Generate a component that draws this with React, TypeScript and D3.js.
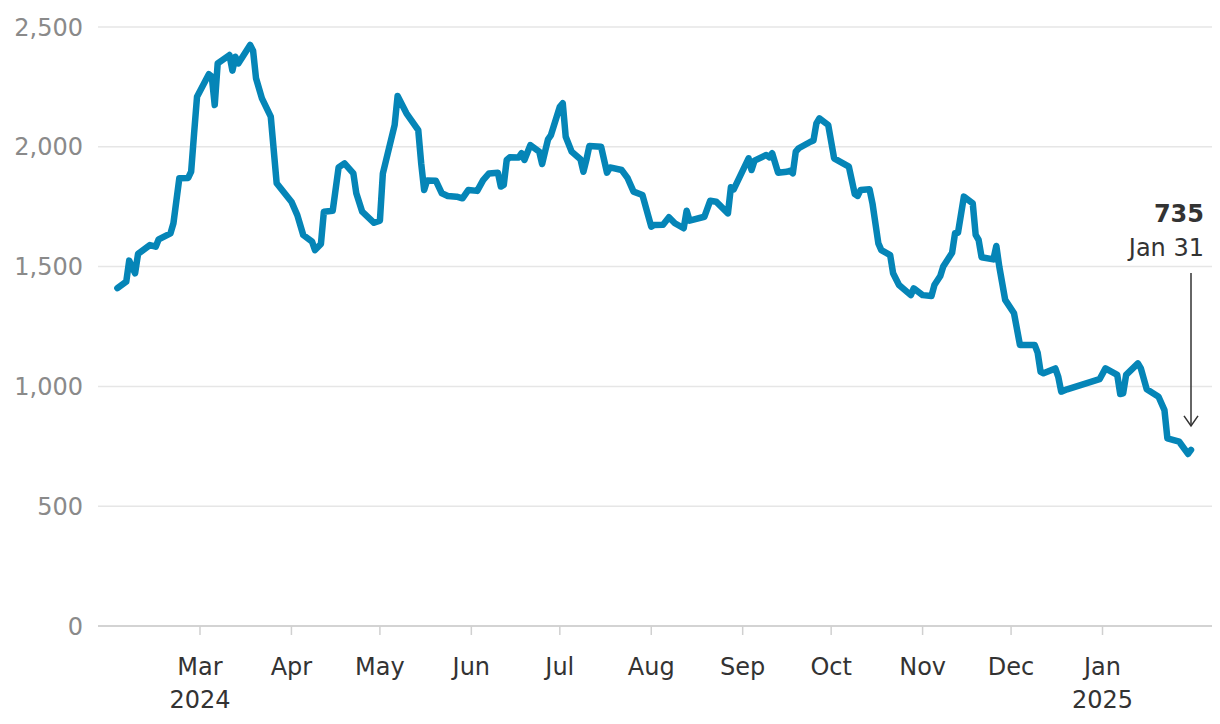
import React from "react";
import * as d3 from "d3";

const dates: string[] = [
  "2024-02-02","2024-02-05","2024-02-06","2024-02-08","2024-02-09","2024-02-13","2024-02-15","2024-02-16","2024-02-20","2024-02-21",
  "2024-02-23","2024-02-26","2024-02-27","2024-02-28","2024-02-29","2024-03-04","2024-03-05","2024-03-06","2024-03-07","2024-03-11",
  "2024-03-12","2024-03-13","2024-03-14","2024-03-18","2024-03-19","2024-03-20","2024-03-22","2024-03-25","2024-03-27","2024-04-01",
  "2024-04-03","2024-04-05","2024-04-08","2024-04-09","2024-04-11","2024-04-12","2024-04-15","2024-04-17","2024-04-19","2024-04-22",
  "2024-04-23","2024-04-25","2024-04-29","2024-05-01","2024-05-02","2024-05-06","2024-05-07","2024-05-10","2024-05-14","2024-05-15",
  "2024-05-16","2024-05-17","2024-05-20","2024-05-22","2024-05-24","2024-05-27","2024-05-29","2024-05-31","2024-06-03","2024-06-05",
  "2024-06-07","2024-06-10","2024-06-11","2024-06-12","2024-06-13","2024-06-14","2024-06-17","2024-06-18","2024-06-19","2024-06-21",
  "2024-06-24","2024-06-25","2024-06-26","2024-06-27","2024-06-28","2024-07-01","2024-07-02","2024-07-03","2024-07-05","2024-07-08",
  "2024-07-09","2024-07-10","2024-07-11","2024-07-15","2024-07-17","2024-07-18","2024-07-22","2024-07-24","2024-07-26","2024-07-29",
  "2024-08-01","2024-08-02","2024-08-05","2024-08-07","2024-08-09","2024-08-12","2024-08-13","2024-08-14","2024-08-19","2024-08-21",
  "2024-08-23","2024-08-27","2024-08-28","2024-08-29","2024-09-03","2024-09-04","2024-09-05","2024-09-09","2024-09-10","2024-09-11",
  "2024-09-13","2024-09-16","2024-09-17","2024-09-18","2024-09-19","2024-09-20","2024-09-24","2024-09-25","2024-09-26","2024-09-27",
  "2024-09-30","2024-10-02","2024-10-07","2024-10-09","2024-10-10","2024-10-11","2024-10-14","2024-10-15","2024-10-17","2024-10-18",
  "2024-10-21","2024-10-22","2024-10-24","2024-10-28","2024-10-29","2024-11-01","2024-11-04","2024-11-05","2024-11-07","2024-11-08",
  "2024-11-11","2024-11-12","2024-11-13","2024-11-15","2024-11-18","2024-11-19","2024-11-20","2024-11-21","2024-11-25","2024-11-26",
  "2024-11-27","2024-11-29","2024-12-02","2024-12-04","2024-12-09","2024-12-10","2024-12-11","2024-12-12","2024-12-16","2024-12-17",
  "2024-12-18","2024-12-20","2024-12-31","2025-01-02","2025-01-06","2025-01-07","2025-01-08","2025-01-09","2025-01-13","2025-01-14",
  "2025-01-16","2025-01-20","2025-01-22","2025-01-23","2025-01-27","2025-01-30","2025-01-31"
];

const values: number[] = [
  1410,1437,1525,1472,1553,1590,1583,1614,1639,1681,
  1869,1870,1896,2056,2209,2303,2293,2174,2348,2383,
  2318,2376,2348,2425,2401,2286,2202,2126,1848,1771,
  1715,1632,1604,1569,1594,1729,1733,1914,1931,1889,
  1806,1729,1683,1692,1889,2091,2212,2140,2070,1931,
  1820,1859,1858,1806,1795,1792,1785,1820,1816,1861,
  1889,1892,1834,1841,1945,1956,1955,1973,1945,2007,
  1980,1928,1980,2031,2049,2167,2182,2042,1980,1948,
  1896,1945,2003,2000,1892,1914,1903,1869,1813,1799,
  1667,1674,1675,1706,1681,1660,1733,1692,1708,1775,
  1771,1722,1831,1823,1952,1903,1942,1966,1956,1973,
  1892,1896,1900,1889,1980,1994,2021,2026,2098,2119,
  2091,1952,1917,1803,1795,1820,1823,1764,1597,1569,
  1548,1472,1423,1381,1409,1381,1377,1423,1461,1500,
  1558,1639,1641,1792,1764,1632,1611,1539,1530,1586,
  1500,1361,1305,1173,1173,1141,1061,1055,1075,1040,
  978,988,1030,1075,1048,968,971,1048,1096,1075,
  988,957,901,783,769,718,735
];

const yTicks: number[] = [0, 500, 1000, 1500, 2000, 2500];
const monthTicks: string[] = ["2024-03-01","2024-04-01","2024-05-01","2024-06-01","2024-07-01","2024-08-01","2024-09-01","2024-10-01","2024-11-01","2024-12-01","2025-01-01"];
const monthLabels: string[] = ["Mar","Apr","May","Jun","Jul","Aug","Sep","Oct","Nov","Dec","Jan"];
const yearLabels: { month: string; year: string }[] = [
  { month: "2024-03-01", year: "2024" },
  { month: "2025-01-01", year: "2025" },
];
const lastLabelValue = "735";
const lastLabelDate = "Jan 31";

const parse = d3.timeParse("%Y-%m-%d");
const FONT = "'DejaVu Sans', 'Noto Sans', sans-serif";

export default function App() {
  const W = 1220, H = 724;
  const x = d3.scaleTime()
    .domain([parse("2024-02-02")!, parse("2025-01-31")!])
    .range([117.4, 1191]);
  const y = d3.scaleLinear().domain([0, 2500]).range([626, 27]);
  const data = dates.map((d, i) => ({ date: parse(d)!, value: values[i] }));
  const line = d3.line<{ date: Date; value: number }>()
    .x(d => x(d.date))
    .y(d => y(d.value))
    .curve(d3.curveLinear);
  const fmt = d3.format(",");
  const last = data[data.length - 1];
  const lx = x(last.date);
  const ly = y(last.value);

  return (
    <svg width={W} height={H} style={{ position: "absolute", left: 0, top: 0, background: "#fff" }} fontFamily={FONT}>
      {yTicks.filter(t => t !== 0).map(t => (
        <line key={t} x1={98} x2={1212} y1={y(t)} y2={y(t)} stroke="#e6e6e6" strokeWidth={1.5} />
      ))}
      {yTicks.map(t => (
        <text key={"l" + t} x={83} y={y(t)} dy="0.36em" textAnchor="end" fontSize={24} fill="#8a8a8a">{fmt(t)}</text>
      ))}
      <line x1={98} x2={1212} y1={y(0)} y2={y(0)} stroke="#c4c4c4" strokeWidth={1.5} />
      {monthTicks.map((m, i) => {
        const tx = x(parse(m)!);
        return (
          <g key={m}>
            <line x1={tx} x2={tx} y1={y(0)} y2={y(0) + 9} stroke="#d0d0d0" strokeWidth={1.5} />
            <text x={tx} y={675} textAnchor="middle" fontSize={24} fill="#333">{monthLabels[i]}</text>
          </g>
        );
      })}
      {yearLabels.map(yl => (
        <text key={yl.year} x={x(parse(yl.month)!)} y={708} textAnchor="middle" fontSize={24} fill="#333">{yl.year}</text>
      ))}
      <path d={line(data) || ""} fill="none" stroke="#0585b7" strokeWidth={6.5} strokeLinejoin="round" strokeLinecap="round" />
      <text x={1204} y={222} textAnchor="end" fontSize={24} fontWeight={700} fill="#333">{lastLabelValue}</text>
      <text x={1204} y={256} textAnchor="end" fontSize={24} fill="#333">{lastLabelDate}</text>
      <line x1={lx} x2={lx} y1={273} y2={ly - 24} stroke="#333" strokeWidth={1.5} />
      <polyline points={`${lx - 7},${ly - 34} ${lx},${ly - 24} ${lx + 7},${ly - 34}`} fill="none" stroke="#333" strokeWidth={1.5} />
    </svg>
  );
}
